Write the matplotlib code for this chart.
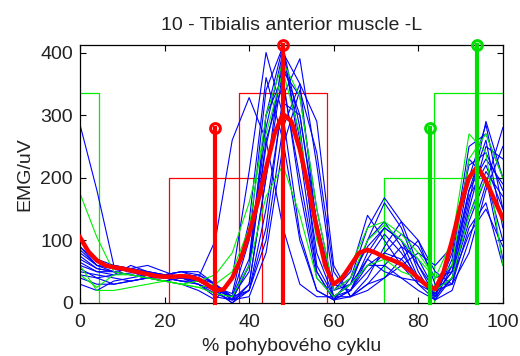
import matplotlib
matplotlib.use("Agg")
import matplotlib.pyplot as plt
import numpy as np

plt.rcParams['font.family'] = ['Liberation Sans', 'DejaVu Sans']

title = "10 - Tibialis anterior muscle -L"
xlabel = "% pohybového cyklu"
ylabel = "EMG/uV"

x_trial = [0, 4, 8, 12, 16, 20, 24, 28, 32, 36, 40, 44, 48, 52, 56, 60, 64, 68, 72, 76, 80, 84, 88, 92, 96, 100]

blue_trials = [
    [285, 180, 60, 55, 50, 45, 40, 35, 25, 10, 60, 250, 380, 300, 120, 20, 40, 90, 120, 100, 60, 20, 60, 180, 230, 190],
    [90, 60, 55, 50, 45, 40, 45, 40, 100, 260, 328, 260, 120, 30, 10, 10, 30, 60, 80, 70, 40, 15, 50, 140, 210, 170],
    [70, 55, 50, 45, 40, 35, 30, 20, 5, 40, 210, 400, 300, 110, 20, 5, 20, 70, 110, 80, 40, 10, 80, 250, 270, 200],
    [60, 50, 45, 48, 50, 45, 40, 30, 10, 5, 60, 300, 410, 280, 60, 10, 30, 100, 160, 120, 50, 5, 60, 200, 285, 150],
    [50, 45, 40, 35, 40, 45, 50, 40, 20, 0, 30, 200, 400, 350, 120, 10, 10, 40, 90, 130, 100, 30, 30, 150, 250, 230],
    [80, 60, 55, 50, 40, 35, 40, 45, 30, 5, 20, 120, 330, 390, 220, 30, 20, 60, 60, 40, 20, 5, 40, 130, 200, 100],
    [100, 70, 60, 55, 50, 45, 40, 40, 30, 10, 20, 100, 280, 350, 290, 60, 10, 30, 40, 60, 80, 60, 90, 220, 240, 180],
    [55, 40, 30, 35, 40, 45, 50, 45, 30, 10, 50, 260, 350, 200, 50, 5, 40, 120, 168, 130, 60, 10, 40, 160, 290, 200],
    [40, 30, 30, 35, 40, 45, 40, 35, 25, 15, 130, 360, 260, 100, 20, 5, 20, 80, 120, 100, 40, 10, 70, 230, 200, 70],
    [75, 55, 50, 55, 60, 50, 40, 35, 20, 0, 20, 150, 320, 300, 130, 20, 30, 100, 130, 90, 30, 5, 20, 100, 190, 280],
    [65, 50, 50, 45, 40, 40, 35, 30, 20, 10, 100, 340, 410, 240, 50, 5, 10, 30, 60, 90, 70, 20, 30, 120, 160, 60],
    [30, 20, 35, 40, 45, 40, 35, 30, 15, 5, 30, 200, 370, 330, 150, 20, 50, 140, 100, 60, 30, 15, 50, 180, 260, 120],
    [90, 65, 55, 50, 45, 45, 40, 35, 25, 5, 60, 280, 400, 260, 80, 10, 20, 50, 80, 110, 90, 40, 50, 170, 220, 150],
    [45, 40, 45, 60, 50, 40, 35, 35, 25, 10, 70, 300, 360, 180, 40, 10, 30, 70, 50, 40, 35, 20, 40, 110, 150, 90],
    [85, 60, 50, 45, 40, 45, 50, 50, 30, 5, 10, 80, 250, 340, 240, 50, 10, 20, 40, 70, 100, 50, 30, 80, 180, 250],
]

green_trials = [
    [175, 105, 50, 45, 40, 35, 30, 25, 30, 50, 120, 300, 385, 330, 150, 20, 40, 100, 125, 100, 70, 40, 60, 230, 270, 200],
    [60, 20, 20, 25, 30, 35, 30, 25, 15, 10, 60, 170, 220, 140, 40, 10, 30, 60, 70, 50, 40, 20, 40, 140, 200, 130],
    [45, 25, 45, 45, 40, 35, 30, 35, 45, 80, 160, 270, 370, 270, 100, 30, 60, 120, 130, 110, 80, 40, 100, 270, 240, 60],
]

x_mean = list(range(0, 101, 2))
mean_emg = [105, 82, 68, 60, 57, 55, 52, 49, 46, 43, 42, 42, 43, 42, 38, 30, 20, 22, 40, 70,
            110, 160, 215, 270, 302, 290, 245, 185, 120, 60, 30, 40, 60, 80, 85, 80, 73, 68, 62, 52,
            40, 28, 22, 50, 100, 155, 200, 218, 195, 165, 135]

# activity windows (start, end, level)
red_windows = [(21, 43, 200), (37.5, 58.5, 335)]
green_windows = [(0, 4.5, 335), (72, 100, 200), (83.7, 100, 335)]

# stems (position, height)
red_stems = [(32, 280), (48, 412)]
green_stems = [(82.7, 280), (93.8, 412)]

txt_color = '#222222'

fig = plt.figure(figsize=(5.2, 3.56), dpi=100)
ax = fig.add_axes([0.1538, 0.1489, 0.8132, 0.7247])

for (s, e, h) in red_windows:
    ax.plot([s, s, e, e], [0, h, h, 0], color='red', lw=0.9, zorder=1)
for (s, e, h) in green_windows:
    if s == 0:
        ax.plot([s, e, e], [h, h, 0], color='#00ee00', lw=0.9, zorder=1)
    elif e == 100:
        ax.plot([s, s, e], [0, h, h], color='#00ee00', lw=0.9, zorder=1)

for tr in blue_trials:
    ax.plot(x_trial, tr, color='blue', lw=0.8, zorder=2)
for tr in green_trials:
    ax.plot(x_trial, tr, color='#00ee00', lw=0.8, zorder=2)

ax.plot(x_mean, mean_emg, color='red', lw=3.2, zorder=3)

for (p, h) in red_stems:
    ax.plot([p, p], [0, h], color='red', lw=3.0, zorder=4, clip_on=False)
    ax.plot([p], [h], marker='o', ms=7, mfc='none', mec='red', mew=2.2, zorder=5, clip_on=False)
for (p, h) in green_stems:
    ax.plot([p, p], [0, h], color='#00dd00', lw=3.0, zorder=4, clip_on=False)
    ax.plot([p], [h], marker='o', ms=7, mfc='none', mec='#00dd00', mew=2.2, zorder=5, clip_on=False)

ax.set_xlim(0, 100)
ax.set_ylim(0, 412)
ax.set_xticks([0, 20, 40, 60, 80, 100])
ax.set_yticks([0, 100, 200, 300, 400])
ax.tick_params(axis='x', pad=8)
ax.tick_params(axis='y', pad=5)
ax.tick_params(direction='in', top=True, right=True, labelsize=14, length=4, width=0.8,
               labelcolor=txt_color)
for sp in ax.spines.values():
    sp.set_linewidth(0.9)
ax.set_title(title, fontsize=14, pad=11, color=txt_color)
ax.set_xlabel(xlabel, fontsize=14, labelpad=5, color=txt_color)
ax.set_ylabel(ylabel, fontsize=14, labelpad=5, color=txt_color)

fig.savefig("out.png", dpi=100)
